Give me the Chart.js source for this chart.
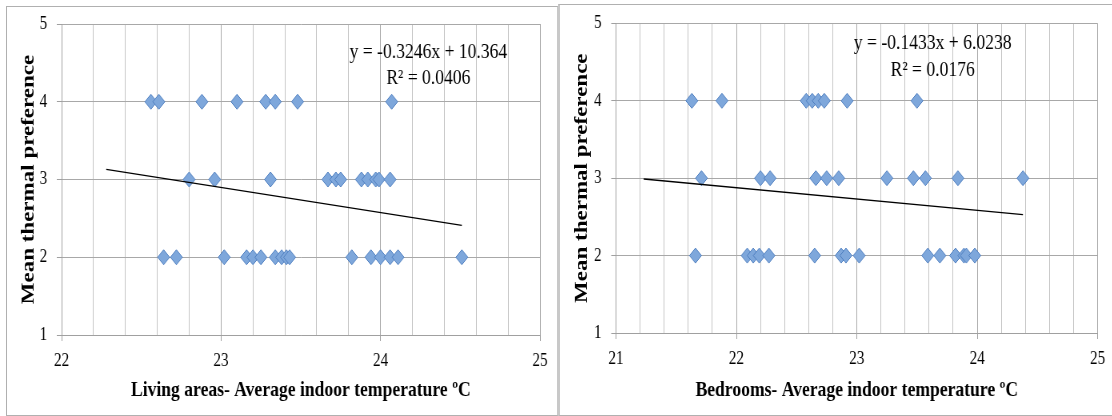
<!DOCTYPE html>
<html>
<head>
<title>Mean thermal preference vs indoor temperature</title>
<script src="https://cdn.jsdelivr.net/npm/chart.js"></script>
<style>
  body { margin: 0; background: #fff; overflow: hidden; }
  #wrap { position: relative; width: 1112px; height: 416px; overflow: hidden; }
  .frame { position: absolute; box-sizing: border-box; }
  canvas { position: absolute; top: 0; transform-origin: 0 0; transform: scaleX(0.8); }
</style>
</head>
<body>
<div id="wrap">
  <div class="frame" style="left:6px;top:6px;width:553px;height:410px;border:1px solid #b0b0b0;border-right:2px solid #c8c8c8;"></div>
  <div class="frame" style="left:558px;top:4px;width:560px;height:412px;border:1px solid #b0b0b0;border-left:2px solid #c8c8c8;"></div>
  <canvas id="living" width="698" height="416" style="left:0;width:698px;height:416px"></canvas>
  <canvas id="bedroom" width="693" height="416" style="left:558px;width:693px;height:416px"></canvas>
</div>

<script>
// Living areas
var livingTemp = [22.56, 22.61, 22.88, 23.10, 23.28, 23.34, 23.48, 24.07,
                  22.80, 22.96, 23.31, 23.67, 23.72, 23.75, 23.88, 23.92, 23.97, 23.99, 24.06,
                  22.64, 22.72, 23.02, 23.16, 23.20, 23.25, 23.34, 23.38, 23.41, 23.43, 23.82, 23.94, 24.00, 24.06, 24.11, 24.51];
var livingPref = [4, 4, 4, 4, 4, 4, 4, 4,
                  3, 3, 3, 3, 3, 3, 3, 3, 3, 3, 3,
                  2, 2, 2, 2, 2, 2, 2, 2, 2, 2, 2, 2, 2, 2, 2, 2];
var livingTrendX = [22.28, 24.51];
var livingTrendY = [3.13, 2.41];
var livingEq = ['y = -0.3246x + 10.364', 'R\u00b2 = 0.0406'];

// Bedrooms
var bedTemp = [21.63, 21.88, 22.58, 22.63, 22.68, 22.73, 22.92, 23.50,
               21.71, 22.20, 22.28, 22.66, 22.75, 22.85, 23.25, 23.47, 23.57, 23.84, 24.38,
               21.66, 22.09, 22.14, 22.19, 22.27, 22.65, 22.87, 22.91, 23.02, 23.59, 23.69, 23.82, 23.89, 23.91, 23.98];
var bedPref = [4, 4, 4, 4, 4, 4, 4, 4,
               3, 3, 3, 3, 3, 3, 3, 3, 3, 3, 3,
               2, 2, 2, 2, 2, 2, 2, 2, 2, 2, 2, 2, 2, 2, 2];
var bedTrendX = [21.23, 24.38];
var bedTrendY = [2.99, 2.53];
var bedEq = ['y = -0.1433x + 6.0238', 'R\u00b2 = 0.0176'];

var yTicks = [1, 2, 3, 4, 5];
var serif = '"Liberation Serif", "Times New Roman", serif';

function isWhole(v) { return Math.abs(v - Math.round(v)) < 1e-6; }

function pairs(xs, ys) {
    return xs.map(function (x, i) { return { x: x, y: ys[i] }; });
}

// draws the regression equation box text
var eqPlugin = {
    id: 'eq',
    afterDraw: function (chart) {
        var o = chart.options.plugins.eq;
        var ctx = chart.ctx;
        var px = chart.scales.x.getPixelForValue(o.x);
        ctx.save();
        ctx.font = '22px ' + serif;
        ctx.fillStyle = '#000';
        ctx.textAlign = 'center';
        ctx.textBaseline = 'middle';
        ctx.fillText(o.lines[0], px, chart.scales.y.getPixelForValue(o.y1));
        ctx.fillText(o.lines[1], px, chart.scales.y.getPixelForValue(o.y2));
        ctx.restore();
    }
};

function makeChart(id, opt) {
    return new Chart(document.getElementById(id), {
        type: 'scatter',
        data: {
            datasets: [{
                type: 'line',
                data: pairs(opt.trendX, opt.trendY),
                borderColor: '#000',
                borderWidth: 1.4,
                pointRadius: 0,
                fill: false
            }, {
                data: pairs(opt.temp, opt.pref),
                pointStyle: 'rectRot',
                pointRadius: 7.5,
                pointHoverRadius: 7.5,
                backgroundColor: '#7ea7db',
                borderColor: '#4f7fc0',
                borderWidth: 1
            }]
        },
        options: {
            responsive: false,
            animation: false,
            devicePixelRatio: 1,
            layout: { padding: { left: 0, right: opt.padRight, top: opt.padTop, bottom: 0 } },
            plugins: {
                legend: { display: false },
                tooltip: { enabled: false },
                eq: { lines: opt.eq, x: opt.eqX, y1: opt.eqY1, y2: opt.eqY2 }
            },
            scales: {
                x: {
                    type: 'linear',
                    min: opt.xMin,
                    max: opt.xMax,
                    afterFit: function (s) { s.height = opt.xHeight; },
                    border: { color: '#a0a0a0' },
                    grid: {
                        color: function (c) { return isWhole(c.tick.value) ? '#a8a8a8' : '#c4c4c4'; },
                        tickColor: function (c) { return isWhole(c.tick.value) ? '#a0a0a0' : 'rgba(0,0,0,0)'; },
                        tickLength: 6
                    },
                    ticks: {
                        stepSize: 0.2,
                        autoSkip: false,
                        maxRotation: 0,
                        padding: 9,
                        color: '#000',
                        font: { family: serif, size: 19 },
                        callback: function (v) { return isWhole(v) ? String(Math.round(v)) : ''; }
                    },
                    title: {
                        display: true,
                        text: opt.xTitle,
                        color: '#000',
                        font: { family: serif, size: 22, weight: 'bold' },
                        padding: { top: 0, bottom: 12.8 }
                    }
                },
                y: {
                    min: yTicks[0],
                    max: yTicks[yTicks.length - 1],
                    afterFit: function (s) { s.width = opt.yWidth; },
                    border: { color: '#a0a0a0' },
                    grid: { color: '#a8a8a8', tickColor: '#a0a0a0', tickLength: 6 },
                    ticks: {
                        stepSize: 1,
                        padding: 12,
                        color: '#000',
                        font: { family: serif, size: 19 }
                    },
                    title: {
                        display: true,
                        text: 'Mean thermal preference',
                        color: '#000',
                        font: { family: serif, size: 23, weight: 'bold' },
                        padding: { top: opt.yTitlePad, bottom: 0 }
                    }
                }
            }
        },
        plugins: [eqPlugin]
    });
}

makeChart('living', {
    temp: livingTemp, pref: livingPref,
    trendX: livingTrendX, trendY: livingTrendY,
    xMin: 22, xMax: 25,
    xTitle: 'Living areas- Average indoor temperature \u00baC',
    eq: livingEq, eqX: 24.30, eqY1: 4.64, eqY2: 4.30,
    padRight: 23, padTop: 24, xHeight: 81, yWidth: 77, yTitlePad: 21.9
});

makeChart('bedroom', {
    temp: bedTemp, pref: bedPref,
    trendX: bedTrendX, trendY: bedTrendY,
    xMin: 21, xMax: 25,
    xTitle: 'Bedrooms- Average indoor temperature \u00baC',
    eq: bedEq, eqX: 23.63, eqY1: 4.75, eqY2: 4.39,
    padRight: 17.4, padTop: 23, xHeight: 83, yWidth: 72.5, yTitlePad: 16.7
});
</script>
</body>
</html>
